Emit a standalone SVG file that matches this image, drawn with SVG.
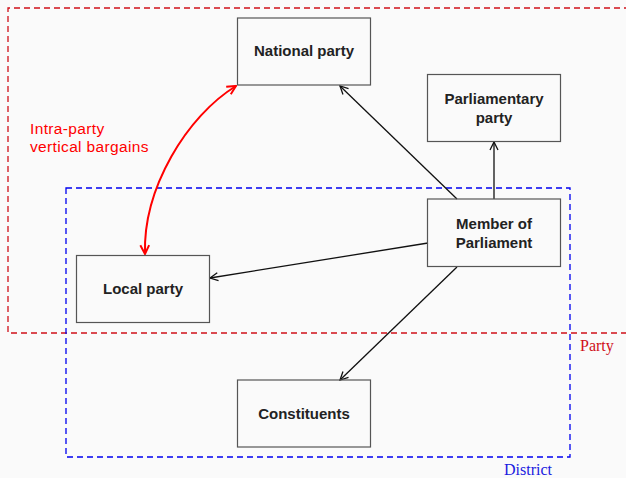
<svg xmlns="http://www.w3.org/2000/svg" width="626" height="478" viewBox="0 0 626 478">
<defs>
<style>
.box{fill:none;stroke:#555;stroke-width:1.2}
.lbl{font-family:"Liberation Sans",Arial,sans-serif;font-weight:bold;font-size:15px;fill:#222;text-anchor:middle}
.conn{stroke:#111;stroke-width:1.3;fill:none;marker-end:url(#ah)}
.note{font-family:"Liberation Sans",Arial,sans-serif;font-size:15.5px;letter-spacing:0.35px;fill:#f00}
</style>
<marker id="ah" viewBox="0 0 10 10" refX="9" refY="5" markerWidth="10" markerHeight="10" markerUnits="userSpaceOnUse" orient="auto">
<path d="M1,1 L9,5 L1,9" fill="none" stroke="#111" stroke-width="1.3"/>
</marker>
<marker id="rh" viewBox="0 0 10 10" refX="9" refY="5" markerWidth="11" markerHeight="11" markerUnits="userSpaceOnUse" orient="auto-start-reverse">
<path d="M1,1 L9,5 L1,9" fill="none" stroke="#f00" stroke-width="1.8"/>
</marker>
</defs>
<rect width="626" height="478" fill="#fafafa"/>
<g id="party-region">
<path d="M630,8 H8 V333 H630" fill="none" stroke="#d0101a" stroke-width="1.3" stroke-dasharray="6,4"/>
<text x="580" y="351" font-family="Liberation Serif,serif" font-size="16" fill="#d0101a">Party</text>
</g>
<g id="district-region">
<rect x="66" y="188" width="504" height="269" fill="none" stroke="#0000f0" stroke-width="1.3" stroke-dasharray="6,4"/>
<text x="504" y="475" font-family="Liberation Serif,serif" font-size="16" fill="#1a1ae0">District</text>
</g>
<g id="connectors">
<line class="conn" x1="457" y1="199" x2="340" y2="86"/>
<line class="conn" x1="494" y1="199" x2="494" y2="142"/>
<line class="conn" x1="428" y1="243" x2="210" y2="278"/>
<line class="conn" x1="457" y1="267" x2="340" y2="380"/>
<path d="M145,254 C143,188 187,116 236,86" fill="none" stroke="#f00" stroke-width="2" marker-start="url(#rh)" marker-end="url(#rh)"/>
<text class="note" x="30" y="134">Intra-party</text>
<text class="note" x="30" y="151.5">vertical bargains</text>
</g>
<g id="national-party">
<rect class="box" x="237.5" y="18" width="133" height="67"/>
<text class="lbl" x="304" y="56">National party</text>
</g>
<g id="parliamentary-party">
<rect class="box" x="427.5" y="74.5" width="133" height="67"/>
<text class="lbl" x="494" y="104">Parliamentary</text>
<text class="lbl" x="494" y="123">party</text>
</g>
<g id="member-of-parliament">
<rect class="box" x="427.5" y="199" width="133" height="67.5"/>
<text class="lbl" x="494" y="229">Member of</text>
<text class="lbl" x="494" y="248">Parliament</text>
</g>
<g id="local-party">
<rect class="box" x="76.5" y="255.5" width="133" height="67"/>
<text class="lbl" x="143" y="294">Local party</text>
</g>
<g id="constituents">
<rect class="box" x="237.5" y="380" width="133" height="67"/>
<text class="lbl" x="304" y="419">Constituents</text>
</g>
</svg>
